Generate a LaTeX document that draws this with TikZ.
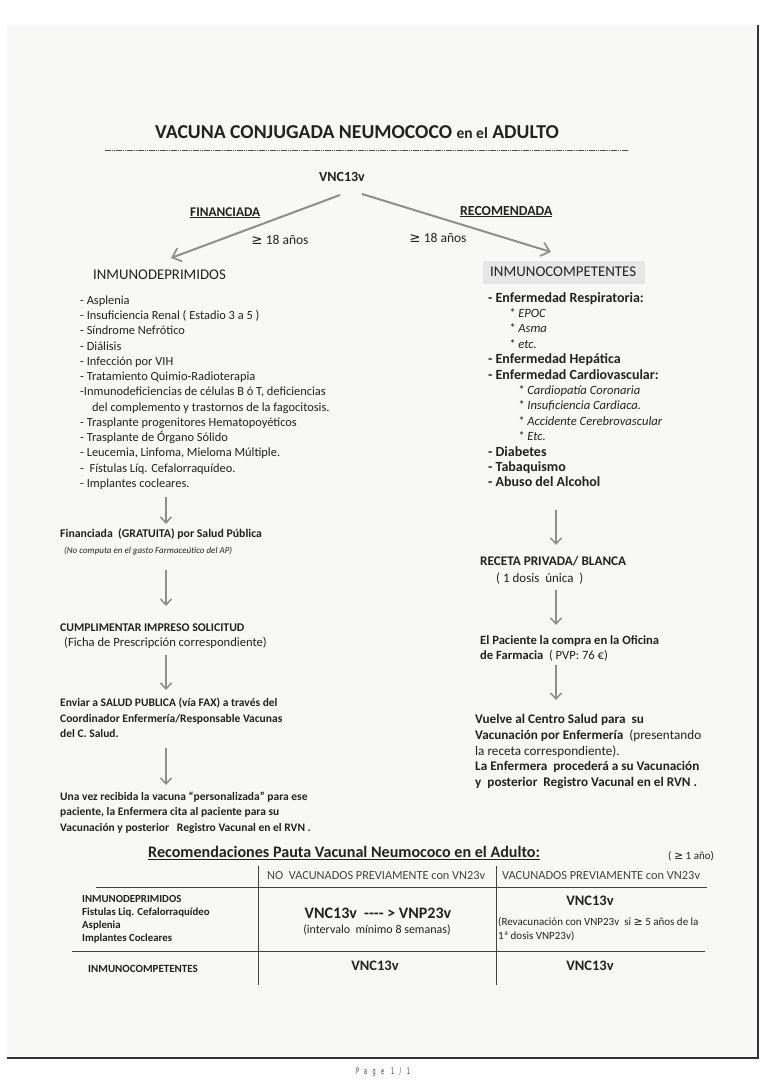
\documentclass[tikz,border=0pt]{standalone}
\usepackage{fontspec}
\setmainfont{Carlito}
\newfontfamily\djv{DejaVu Sans}
\newfontfamily\footfont[FakeStretch=0.55,LetterSpace=60]{DejaVu Sans}
\usetikzlibrary{arrows.meta}
\definecolor{ink}{HTML}{222222}
\definecolor{arrowgray}{HTML}{8E8E8E}
\definecolor{paper}{HTML}{F8F8F6}
\definecolor{hlgray}{HTML}{E6E6E6}
\newcommand{\gtreq}{{\djv ≥}}
\begin{document}
\begin{tikzpicture}[x=1pt,y=-1pt,
  txt/.style={inner sep=0pt, text=ink, anchor=base west},
  ctr/.style={inner sep=0pt, text=ink, anchor=center},
  blk/.style={inner sep=0pt, text=ink, anchor=north west, align=left},
  flowarrow/.style={draw=arrowgray, line width=1.7pt, -{Straight Barb[length=6pt,width=11pt,line width=1.5pt]}},
  diagarrow/.style={draw=arrowgray, line width=2pt, -{Straight Barb[length=8pt,width=14pt,line width=1.7pt]}},
  tline/.style={draw=ink!85, line width=0.8pt},
  titlerule/.style={draw=ink!80, line width=0.7pt, dash pattern=on 1.5pt off 0.7pt},
  pageedge/.style={draw=black!80, line width=2pt}
]
\useasboundingbox (0,0) rectangle (768,1087);
% scanned page
\fill[paper] (7,25) rectangle (758,1058);
\draw[pageedge] (7,1058) -- (758,1058) -- (758,25);

% title
\node[txt, font=\fontsize{19.7}{22}\selectfont\bfseries] (title) at (155,138.5)
  {VACUNA CONJUGADA NEUMOCOCO {\fontsize{15.5}{18}\selectfont en el} ADULTO};
\draw[titlerule] (105,150) -- (628,150);

% top split
\node[ctr, font=\fontsize{14}{16}\selectfont\bfseries] (vnc) at (342,177) {VNC13v};
\coordinate (aLs) at (340,195);
\coordinate (aLe) at (171,258);
\coordinate (aRs) at (362,194);
\coordinate (aRe) at (551,252);
\draw[diagarrow] (aLs) -- (aLe);
\draw[diagarrow] (aRs) -- (aRe);
\node[txt, font=\fontsize{13.3}{15}\selectfont\bfseries] (fin) at (190,216) {\underline{FINANCIADA}};
\node[txt, font=\fontsize{13.8}{15}\selectfont\bfseries] (rec) at (460,215) {\underline{RECOMENDADA}};
\node[ctr, font=\fontsize{13.5}{15}\selectfont] (ageL) at (280,240) {\gtreq{} 18 años};
\node[ctr, font=\fontsize{13.5}{15}\selectfont] (ageR) at (438,238) {\gtreq{} 18 años};

% left column
\node[txt, font=\fontsize{14.8}{16}\selectfont] (inmd) at (93,279) {INMUNODEPRIMIDOS};
\node[blk, font=\fontsize{12.4}{15.25}\selectfont] (listL) at (80,295.5) {%
- Asplenia\\
- Insuficiencia Renal ( Estadio 3 a 5 )\\
- Síndrome Nefrótico\\
- Diálisis\\
- Infección por VIH\\
- Tratamiento Quimio-Radioterapia\\
-Inmunodeficiencias de células B ó T, deficiencias\\
\hspace*{12pt}del complemento y trastornos de la fagocitosis.\\
- Trasplante progenitores Hematopoyéticos\\
- Trasplante de Órgano Sólido\\
- Leucemia, Linfoma, Mieloma Múltiple.\\
-\ \ Fístulas Líq. Cefalorraquídeo.\\
- Implantes cocleares.};

% right column
\fill[hlgray] (483,261) rectangle (645,284);
\node[txt, font=\fontsize{14.9}{16}\selectfont] (inmc) at (490,276.5) {INMUNOCOMPETENTES};
\node[blk, font=\fontsize{14}{15.4}\selectfont\bfseries] (listR) at (488,292) {%
- Enfermedad Respiratoria:\\
\hspace*{21pt}{\mdseries\itshape\fontsize{12.6}{15.4}\selectfont * EPOC}\\
\hspace*{21pt}{\mdseries\itshape\fontsize{12.6}{15.4}\selectfont * Asma}\\
\hspace*{21pt}{\mdseries\itshape\fontsize{12.6}{15.4}\selectfont * etc.}\\
- Enfermedad Hepática\\
- Enfermedad Cardiovascular:\\
\hspace*{30pt}{\mdseries\itshape\fontsize{12.6}{15.4}\selectfont * Cardiopatía Coronaria}\\
\hspace*{30pt}{\mdseries\itshape\fontsize{12.6}{15.4}\selectfont * Insuficiencia Cardiaca.}\\
\hspace*{30pt}{\mdseries\itshape\fontsize{12.6}{15.4}\selectfont * Accidente Cerebrovascular}\\
\hspace*{30pt}{\mdseries\itshape\fontsize{12.6}{15.4}\selectfont * Etc.}\\
- Diabetes\\
- Tabaquismo\\
- Abuso del Alcohol};

% left flow
\node[txt, font=\fontsize{11.8}{15}\selectfont\bfseries] (f1) at (60,537.5) {Financiada\ \ (GRATUITA) por Salud Pública};
\node[txt, font=\fontsize{9}{11}\selectfont\itshape] (f1n) at (64,553) {(No computa en el gasto Farmaceútico del AP)};
\node[txt, font=\fontsize{11.8}{15}\selectfont\bfseries] (f2) at (60,631) {CUMPLIMENTAR IMPRESO SOLICITUD};
\node[txt, font=\fontsize{12.6}{15}\selectfont] (f2n) at (64,646) {(Ficha de Prescripción correspondiente)};
\node[blk, font=\fontsize{11.5}{15.4}\selectfont\bfseries] (f3) at (60,698) {Enviar a SALUD PUBLICA (vía FAX) a través del\\Coordinador Enfermería/Responsable Vacunas\\del C. Salud.};
\node[blk, font=\fontsize{11.5}{15.4}\selectfont\bfseries] (f4) at (60,791.5) {Una vez recibida la vacuna “personalizada” para ese\\paciente, la Enfermera cita al paciente para su\\Vacunación y posterior\ \ \ Registro Vacunal en el RVN .};
\coordinate (l1s) at (166,497); \coordinate (l1e) at (166,524);
\coordinate (l2s) at (166,570); \coordinate (l2e) at (166,606);
\coordinate (l3s) at (166,655); \coordinate (l3e) at (166,690);
\coordinate (l4s) at (166,748); \coordinate (l4e) at (166,785);
\draw[flowarrow] (l1s) -- (l1e);
\draw[flowarrow] (l2s) -- (l2e);
\draw[flowarrow] (l3s) -- (l3e);
\draw[flowarrow] (l4s) -- (l4e);

% right flow
\node[txt, font=\fontsize{13.2}{15}\selectfont\bfseries] (r1) at (480,565.5) {RECETA PRIVADA/ BLANCA};
\node[txt, font=\fontsize{13}{15}\selectfont] (r1n) at (496,582) {(\ 1 dosis\ \ única\ \ )};
\node[blk, font=\fontsize{12.6}{15.3}\selectfont\bfseries] (r2) at (480,635.5) {El Paciente la compra en la Oficina\\de Farmacia\ \ {\mdseries ( PVP: 76 €)}};
\node[blk, font=\fontsize{13.2}{15.8}\selectfont\bfseries] (r3) at (475,714) {Vuelve al Centro Salud para\ \ su\\Vacunación por Enfermería\ \ {\mdseries (presentando}\\{\mdseries la receta correspondiente).}\\La Enfermera\ \ procederá a su Vacunación\\y\ \ posterior\ \ Registro Vacunal en el RVN .};
\coordinate (r1s) at (556,510); \coordinate (r1e) at (556,545);
\coordinate (r2s) at (556,590); \coordinate (r2e) at (556,625);
\coordinate (r3s) at (556,665); \coordinate (r3e) at (556,700);
\draw[flowarrow] (r1s) -- (r1e);
\draw[flowarrow] (r2s) -- (r2e);
\draw[flowarrow] (r3s) -- (r3e);

% table
\node[txt, font=\fontsize{16.1}{19}\selectfont\bfseries] (ttitle) at (148,857.5) {\underline{Recomendaciones Pauta Vacunal Neumococo en el Adulto:}};
\node[txt, font=\fontsize{11}{13}\selectfont] (tage) at (668,859) {( \gtreq{} 1 año)};
\draw[tline] (258,866) -- (258,985);
\draw[tline] (496,866) -- (496,985);
\draw[tline] (96,887) -- (707,887);
\draw[tline] (72,951) -- (705,951);
\node[txt, font=\fontsize{12.3}{13}\selectfont, text=ink!85] (h1) at (267,879) {NO\ \ VACUNADOS PREVIAMENTE con VN23v};
\node[txt, font=\fontsize{12.4}{13}\selectfont, text=ink!85] (h2) at (502,879) {VACUNADOS PREVIAMENTE con VN23v};
\node[blk, font=\fontsize{10.8}{13.1}\selectfont\bfseries] (rl1) at (82,895) {INMUNODEPRIMIDOS\\Fistulas Liq. Cefalorraquídeo\\Asplenia\\Implantes Cocleares};
\node[txt, font=\fontsize{11}{13}\selectfont\bfseries] (rl2) at (88,972) {INMUNOCOMPETENTES};
\node[ctr, font=\fontsize{16}{18}\selectfont\bfseries] (c11) at (378,913) {VNC13v\ \ -{}-{}-{}- > VNP23v};
\node[ctr, font=\fontsize{12}{14}\selectfont] (c11n) at (377,930) {(intervalo\ \ mínimo 8 semanas)};
\node[ctr, font=\fontsize{14.5}{16}\selectfont\bfseries] (c12) at (590,901) {VNC13v};
\node[blk, font=\fontsize{11}{14}\selectfont] (c12n) at (498,917.5) {(Revacunación con VNP23v\ \ si \gtreq{} 5 años de la\\1ª dosis VNP23v)};
\node[ctr, font=\fontsize{14.5}{16}\selectfont\bfseries] (c21) at (375,966) {VNC13v};
\node[ctr, font=\fontsize{14.5}{16}\selectfont\bfseries] (c22) at (590,966) {VNC13v};

% footer
\node[ctr, font=\footfont\fontsize{9}{10}\selectfont, text=black!75] (foot) at (383,1072) {Page 1/1};
\end{tikzpicture}
\end{document}
